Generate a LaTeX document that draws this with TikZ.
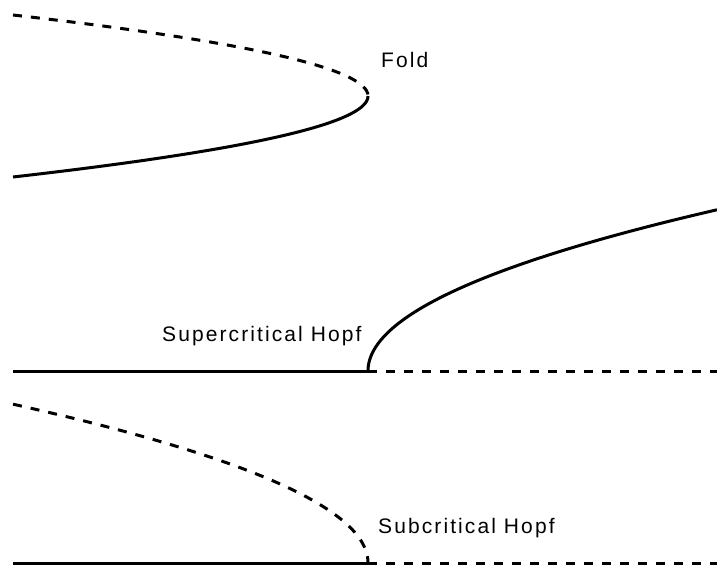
\documentclass[tikz,border=0pt]{standalone}
\usepackage{fontspec}
\setmainfont{Liberation Sans}
\newfontfamily\tagfont{Liberation Sans}[LetterSpace=10]
\usepackage{tikz}
\usetikzlibrary{positioning}
\tikzset{
  branch/.style={line width=3pt, line cap=butt, line join=round},
  stable/.style={branch},
  unstable/.style={branch, dash pattern=on 9pt off 9pt},
  tag/.style={font=\tagfont\fontsize{21}{25}\selectfont, inner sep=0pt, anchor=base west}
}
\begin{document}
\begin{tikzpicture}[x=1pt,y=-1pt]
\useasboundingbox (0,0) rectangle (717,568);
\fill[white] (0,0) rectangle (717,568);

% fold
\coordinate (fold) at (368,96);
\draw[unstable] plot[domain=15:96, samples=80, smooth] ({368-355*((\x-96)/81)*((\x-96)/81)},{\x});
\draw[stable] plot[domain=96:177, samples=80, smooth] ({368-355*((\x-96)/81)*((\x-96)/81)},{\x});
\node[tag] (foldTag) at (381,67) {Fold};

% supercritical hopf
\coordinate (supL) at (13,371);
\coordinate (supHopf) at (368,371);
\coordinate (supR) at (717,371);
\draw[stable] (supL) -- (supHopf);
\draw[unstable] (supHopf) -- (supR);
\draw[stable] plot[domain=0:18.68, samples=90, smooth] ({368+\x*\x},{371-8.63*\x});
\node[tag] (supTag) at (162,341) {Supercritical Hopf};

% subcritical hopf
\coordinate (subL) at (13,563);
\coordinate (subHopf) at (368,563);
\coordinate (subR) at (717,563);
\draw[stable] (subL) -- (subHopf);
\draw[unstable] (subHopf) -- (subR);
\draw[unstable] plot[domain=18.84:0, samples=90, smooth] ({368-\x*\x},{563-8.43*\x});
\node[tag] (subTag) at (378,533) {Subcritical Hopf};
\end{tikzpicture}
\end{document}
